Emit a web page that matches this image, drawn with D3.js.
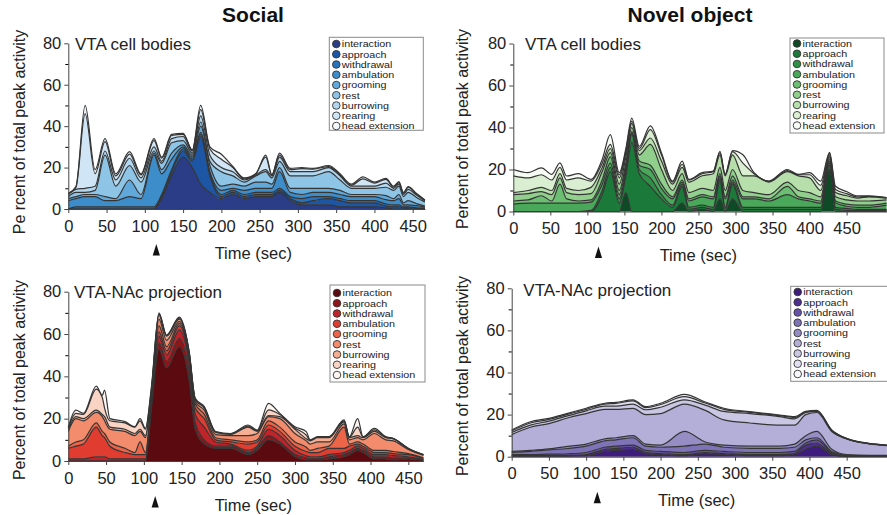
<!DOCTYPE html>
<html>
<head>
<meta charset="utf-8">
<script src="https://cdn.jsdelivr.net/npm/d3@7"></script>
<style>
  body { margin: 0; background: #fff; }
  svg { font-family: "Liberation Sans", Arial, sans-serif; }
</style>
</head>
<body>
<div class="chart"></div>
<script>
// behaviours, bottom of the stack first (= top of the legend)
var behaviors = ["interaction", "approach", "withdrawal", "ambulation", "grooming", "rest", "burrowing", "rearing", "head extension"];

var blueShades   = ["#2c3d88", "#1d56a5", "#2a72ba", "#3d8dcb", "#62a9db", "#8ec5e7", "#b3d7ef", "#d0e5f5", "#f4f9fd"];
var greenShades  = ["#0e4a25", "#1b7a3a", "#2e9146", "#4aa85a", "#6cbe72", "#90cf8c", "#b6dfab", "#daefd2", "#f6fbf3"];
var redShades    = ["#5b0b10", "#901519", "#c0232a", "#e03c30", "#ec6549", "#f28c6c", "#f6ae94", "#f9d3c4", "#fef4f0"];
var purpleShades = ["#3e1c7d", "#4e2e91", "#6652a6", "#7d73b6", "#958dc4", "#b3afd8", "#cac7e5", "#e3e1f1", "#f8f7fc"];

var xTicks = [0, 50, 100, 150, 200, 250, 300, 350, 400, 450];
var yTicks = [0, 20, 40, 60, 80];
var yMinorTicks = [10, 30, 50, 70];
var arrowTime = 115;

// Social / VTA cell bodies
var socialCellTime = [0, 10, 22, 35, 48, 62, 80, 95, 112, 122, 135, 150, 162, 173, 185, 200, 215, 230, 245, 258, 266, 276, 290, 305, 320, 340, 355, 370, 385, 400, 415, 425, 432, 438, 444, 455, 466];
var socialCellValues = [
  [0, 0, 0, 0, 0, 0, 0, 0, 0, 5, 16, 25, 20, 12, 8, 5, 7, 5, 6, 6, 6, 8, 4, 2, 2, 2, 1, 1, 1, 1, 0.5, 0, 0, 0, 0, 0, 0],
  [0, 0, 0, 0, 0, 0, 0, 0, 0, 1, 2, 3, 3, 23, 8, 1, 1, 1, 1, 1, 1, 1, 1, 1, 2, 3, 3, 2, 2, 2, 1, 1, 1, 0.5, 0.5, 0.3, 0.2],
  [0, 1, 1, 1, 1, 1, 1, 1, 1, 1, 1, 1, 1, 1, 1, 1, 1, 1, 1, 1, 1, 1, 1, 2, 2, 1, 1, 1, 1, 1, 1, 1, 1, 0.5, 0.5, 0.3, 0.2],
  [4, 4, 5, 5, 3, 3, 5, 4, 25, 10, 5, 1, 1, 1, 1, 2, 1, 2, 2, 2, 2, 8, 2, 2, 2, 2, 2, 2, 2, 2, 2, 2, 3, 1, 1, 1, 0.5],
  [1, 1, 1, 1, 2, 1, 8, 2, 1, 2, 3, 1, 1, 3, 3, 2, 2, 2, 3, 3, 2, 2, 2, 3, 2, 2, 2, 1, 1, 1, 2, 1, 2, 1, 2, 1, 0.5],
  [1, 2, 1, 2, 20, 6, 7, 6, 1, 3, 5, 2, 1, 2, 2, 7, 4, 2, 3, 5, 3, 3, 6, 6, 6, 8, 5, 3, 3, 3, 4, 4, 4, 3, 4, 3, 2],
  [1, 1.5, 2, 2, 2, 3, 3.5, 2, 2, 1, 2, 2, 1, 3, 3, 2, 2, 1, 0.5, 1, 1, 2, 2, 2, 2, 2, 2, 1, 1, 1, 2, 1, 1, 1, 1.5, 1.1, 0.5],
  [0.5, 1, 36, 6, 4.5, 2, 2, 1.5, 3, 1.5, 1.5, 1, 0.5, 3, 3, 4, 2, 0.5, 0.5, 6, 0.5, 1, 1, 1.5, 1.3, 0.5, 0.5, 0.5, 3.5, 1.5, 1.8, 0.5, 0.7, 0.5, 1, 0.5, 0.3],
  [0, 0.3, 4, 2, 1.5, 1, 1.2, 0.5, 1, 0.5, 0.5, 0.5, 0, 2, 1, 2.4, 0.5, 0.5, 0, 1, 0, 1, 0.6, 0.5, 0.3, 0.5, 0.5, 0.5, 1, 0.5, 0.5, 0.5, 0.5, 0.5, 0.3, 0.3, 0.1]
];

// Novel object / VTA cell bodies
var objectCellTime = [0, 20, 38, 52, 63, 72, 88, 105, 120, 131, 143, 152, 160, 170, 185, 200, 215, 228, 237, 255, 270, 279, 286, 296, 310, 325, 345, 370, 385, 400, 415, 427, 435, 450, 465, 480, 504];
var objectCellValues = [
  [0, 0, 0, 0, 0, 0, 0, 0, 0, 0, 0, 9, 0, 0, 0, 0, 0, 4, 0, 1, 0, 6, 0, 6, 0, 0, 0, 0, 0, 0, 0, 20, 0, 0, 0, 0, 0],
  [0, 0, 0, 0, 0, 0, 0, 0, 8, 19, 4, 8, 33, 18, 12, 6, 2, 8, 1, 1, 1, 9, 1, 7, 1, 1, 1, 1, 1, 1, 1, 2, 1, 0.5, 0.5, 0.5, 0.5],
  [0, 0, 0, 0, 0, 0, 0, 0.5, 2, 2, 2, 2, 4, 2, 4, 2, 1, 1, 1, 1, 1, 1, 1, 1, 1, 1, 1, 1, 1, 1, 1, 1, 1, 1, 0.5, 0.5, 0.5],
  [3.5, 4, 4, 4, 4, 4, 4, 4, 3, 2, 2, 2, 0.5, 2, 4, 3, 3, 1, 3, 4, 4, 1, 4, 1, 4, 4, 3, 6, 4, 3, 2, 1, 2, 1, 1, 1, 2],
  [1.5, 1.5, 3.5, 1, 9, 2, 1, 1, 2, 3, 2, 2, 0.5, 2, 2, 2, 1, 1, 1, 1, 1, 1, 1, 2, 1, 1, 1, 4, 1, 1, 1, 1, 1, 1, 1, 1, 1],
  [3, 3, 2, 3, 3, 3, 3, 3, 4, 2, 3, 3, 2, 3, 10, 7, 3, 3, 3, 3, 3, 3, 3, 3, 3, 2, 2, 2, 3, 3, 2, 1, 2, 2, 2, 2, 1.5],
  [1, 1.5, 2, 2, 2, 2, 2, 3, 2, 2, 3, 2, 2, 2, 3, 4, 3, 3, 5, 6, 8, 6, 7, 7, 7, 8, 6, 5, 7, 7, 3, 1, 2, 2, 1.4, 2, 0.8],
  [8, 6, 6, 5, 3, 4, 6, 3, 2, 2, 1.5, 1, 1, 1, 4, 3, 1, 1.5, 1, 1, 1, 1, 0.5, 1.5, 6, 1, 0.3, 0.5, 0.5, 1.5, 2.5, 0.7, 1.5, 1, 0.5, 0.2, 0.2],
  [3, 2.5, 3.3, 2.7, 2.2, 1.9, 2, 0.8, 1.8, 4.6, 1, 1, 1.5, 1, 1.8, 1, 0.5, 1.5, 0.3, 0.5, 0.2, 0.7, 0.2, 0.5, 4, 0.5, 0.2, 0.5, 0.2, 1, 2, 0.5, 1.5, 1, 0.5, 0.2, 0.1]
];

// Social / VTA-NAc projection
var socialNacTime = [0, 10, 20, 37, 45, 48, 55, 75, 88, 95, 102, 110, 120, 130, 147, 160, 168, 180, 195, 215, 238, 250, 265, 280, 300, 315, 320, 330, 345, 365, 372, 383, 390, 405, 420, 430, 450, 470];
var socialNacValues = [
  [0, 0, 0, 0, 0, 0, 0, 0, 0, 0, 0, 25, 53, 44, 54, 38, 15, 8, 6, 6, 3, 5, 10, 8, 2, 0.5, 0.5, 0.5, 1, 2, 3, 5, 4, 1, 1, 0.5, 1, 0.3],
  [0, 0, 0, 0, 0, 0, 0, 0, 0, 0, 0, 1, 3, 3, 4, 4, 3, 2, 1, 1, 1, 1, 2, 1, 1, 1, 0.5, 0.5, 1, 1, 1, 1, 1, 1, 1, 1, 0.5, 0.2],
  [1, 1, 1, 2, 2, 2, 1, 1, 1, 1, 1, 1, 3, 3, 4, 4, 4, 6, 2, 1, 1, 1, 3, 3, 2, 1, 1, 1, 1, 1, 1, 1, 1, 1, 1, 1, 0.5, 0.2],
  [5, 6, 7, 14, 10, 9, 6, 3, 2, 2, 2, 1, 2, 2, 2, 2, 3, 4, 1, 1, 3, 2, 2, 2, 2, 2, 2, 2, 3, 2, 2, 1, 1, 1, 1, 1, 1, 0.5],
  [1, 2, 2, 2, 2, 2, 2, 2, 1, 6, 1, 1, 3, 2, 1, 1, 2, 2, 1, 1, 1, 1, 2, 2, 2, 2, 1, 2, 1, 10, 1, 1, 1, 1, 1, 1, 0.5, 0.3],
  [7, 11, 9, 5, 7, 6, 6, 8, 8, 5, 7, 3, 3, 3, 1, 1, 1, 2, 1.5, 2, 3, 3, 2, 4, 4, 3, 3, 3, 2, 1.5, 2, 2, 2, 8, 5, 5, 2, 1.2],
  [1, 1, 1, 1, 1, 2, 1, 1, 1, 1, 1, 1, 2, 2, 1, 1, 1, 1, 1, 0.6, 4, 1, 0.5, 1, 2, 1, 1.5, 2, 2, 1, 1, 1, 1, 1, 1, 1, 0.3, 0.2],
  [0.5, 1.5, 2, 10, 8, 4, 3, 3, 3, 4, 3, 1, 0.5, 0.3, 0.5, 0.3, 0.3, 0.4, 0.2, 0.2, 0.5, 0.3, 2.7, 1, 0.6, 1.7, 0.3, 0.3, 0.3, 0.5, 0.3, 4, 0.3, 0.7, 0.3, 0.1, 0.1, 0.05],
  [0.5, 1.5, 0.5, 1.4, 1, 8.5, 1, 0.6, 0.2, 1, 0.4, 1, 0.5, 0.2, 0.5, 0.3, 0.3, 0.3, 0.2, 0.2, 0.5, 0.3, 3, 0.5, 0.6, 1.7, 0.2, 0.2, 0.2, 0.4, 0.2, 4, 0.2, 0.7, 0.2, 0.1, 0.1, 0.05]
];

// Novel object / VTA-NAc projection
var objectNacTime = [0, 25, 50, 75, 100, 125, 140, 163, 180, 200, 232, 260, 285, 320, 360, 380, 395, 410, 430, 450, 480, 504];
var objectNacValues = [
  [0.3, 0.3, 0.3, 0.3, 0.5, 2.5, 3, 3.5, 1.5, 1, 0.5, 1.5, 1, 0.5, 0.5, 1, 3.5, 5, 1, 0.1, 0.1, 0.1],
  [0.2, 0.2, 0.3, 0.3, 0.5, 1, 1, 1, 0.5, 0.5, 0.5, 0.5, 0.5, 0.5, 0.5, 0.5, 2, 1.5, 0.5, 0.1, 0.1, 0.1],
  [0.5, 0.5, 0.6, 0.8, 1, 1, 1, 1, 1, 1, 1, 1, 1, 1, 1, 1, 1, 1.5, 0.5, 0.2, 0.1, 0.1],
  [1, 1.5, 2, 2.5, 3, 3, 3, 3.5, 2, 2, 3, 3, 2, 2, 2, 2, 1.5, 1, 0.5, 0.3, 0.2, 0.2],
  [0.5, 0.5, 0.5, 1, 1, 1, 1, 1, 1, 1, 7, 1, 1, 1, 1, 1.5, 2, 3, 1, 0.3, 0.2, 0.2],
  [8, 11, 12, 13.5, 14.5, 14, 13.5, 13, 14, 15, 13, 15, 12, 11, 10, 9, 10, 9, 8.5, 7.4, 5.4, 4.6],
  [1, 1, 1.2, 1, 1.3, 1.5, 1.5, 2, 2.3, 3, 2, 2.5, 4, 4.5, 4, 3, 1, 0.5, 0.3, 0.1, 0.1, 0.1],
  [0.7, 1, 0.8, 0.7, 0.7, 1, 1.3, 1.5, 1, 1.3, 1.5, 1, 1, 0.6, 0.5, 0.6, 0.3, 0.3, 0.2, 0.1, 0.05, 0.05],
  [0.5, 0.6, 0.5, 0.5, 0.5, 0.4, 0.5, 0.5, 0.5, 0.6, 1.1, 0.5, 0.5, 0.3, 0.3, 0.4, 0.2, 0.2, 0.2, 0.1, 0.05, 0.05]
];

var width = 887, height = 515;

var svg = d3.select(".chart").append("svg")
    .attr("width", width)
    .attr("height", height);

// column titles
svg.append("text").attr("x", 253).attr("y", 22).attr("text-anchor", "middle")
    .style("font-size", "21px").style("font-weight", "bold").style("fill", "#111").text("Social");
svg.append("text").attr("x", 690).attr("y", 22).attr("text-anchor", "middle")
    .style("font-size", "21px").style("font-weight", "bold").style("fill", "#111").text("Novel object");

// layout of the four panels
var panels = [
  { time: socialCellTime, values: socialCellValues, colors: blueShades, name: "VTA cell bodies",
    yLabel: "Pe rcent of total peak activity",
    x0: 68.3, pps: 0.7653, yBase: 209, yTop: 43.3,
    nameX: 75, nameY: 50, yLabelX: 19.5, yLabelY: 132,
    legX: 329.3, legY: 37.3, legW: 94, legH: 93, legRow: 44 },
  { time: objectCellTime, values: objectCellValues, colors: greenShades, name: "VTA cell bodies",
    yLabel: "Percent of total peak activity",
    x0: 513.3, pps: 0.7407, yBase: 211.5, yTop: 43.5,
    nameX: 525, nameY: 50, yLabelX: 462, yLabelY: 129,
    legX: 790, legY: 38, legW: 94, legH: 95, legRow: 43.5 },
  { time: socialNacTime, values: socialNacValues, colors: redShades, name: "VTA-NAc projection",
    yLabel: "Percent of total peak activity",
    x0: 68.3, pps: 0.7556, yBase: 461, yTop: 291.7,
    nameX: 74, nameY: 298, yLabelX: 19.5, yLabelY: 380,
    legX: 330, legY: 285, legW: 95, legH: 97, legRow: 293 },
  { time: objectNacTime, values: objectNacValues, colors: purpleShades, name: "VTA-NAc projection",
    yLabel: "Percent of total peak activity",
    x0: 511.7, pps: 0.7444, yBase: 456.7, yTop: 288.3,
    nameX: 523.3, nameY: 296, yLabelX: 462.5, yLabelY: 376,
    legX: 790.7, legY: 286.3, legW: 100, legH: 95, legRow: 292 }
];

panels.forEach(function(p) {
  var xEnd = d3.max(p.time);
  var xScale = d3.scaleLinear().domain([0, xEnd]).range([p.x0, p.x0 + p.pps * xEnd]);
  var yScale = d3.scaleLinear().domain([0, 80]).range([p.yBase, p.yTop]);

  // rows for d3.stack
  var rows = p.time.map(function(t, i) {
    var row = { time: t };
    behaviors.forEach(function(b, k) { row[b] = p.values[k][i]; });
    return row;
  });
  var layers = d3.stack().keys(behaviors)(rows);

  var area = d3.area()
      .x(function(d) { return xScale(d.data.time); })
      .y0(function(d) { return yScale(d[0]); })
      .y1(function(d) { return yScale(d[1]); })
      .curve(d3.curveMonotoneX);

  var topLine = d3.line()
      .x(function(d) { return xScale(d.data.time); })
      .y(function(d) { return yScale(d[1]); })
      .curve(d3.curveMonotoneX);

  var g = svg.append("g");

  g.selectAll(".layer")
      .data(layers)
    .enter().append("path")
      .attr("class", "layer")
      .attr("d", area)
      .style("fill", function(d, i) { return p.colors[i]; });

  g.selectAll(".edge")
      .data(layers)
    .enter().append("path")
      .attr("class", "edge")
      .attr("d", topLine)
      .style("fill", "none")
      .style("stroke", "#353535")
      .style("stroke-width", 1.2)
      .style("stroke-linejoin", "round");

  // y axis, major + minor ticks
  var yAxis = g.append("g")
      .attr("transform", "translate(" + p.x0 + ",0)")
      .call(d3.axisLeft(yScale).tickValues(yTicks).tickSize(4).tickSizeOuter(0).tickPadding(3));
  g.append("g")
      .attr("transform", "translate(" + p.x0 + ",0)")
      .call(d3.axisLeft(yScale).tickValues(yMinorTicks).tickSize(3).tickFormat(""))
      .select(".domain").remove();

  // x axis
  var xAxis = g.append("g")
      .attr("transform", "translate(0," + p.yBase + ")")
      .call(d3.axisBottom(xScale).tickValues(xTicks).tickSize(4).tickSizeOuter(0).tickPadding(7));

  [yAxis, xAxis].forEach(function(a) {
    a.selectAll("text").style("font-size", "16.5px").style("font-family", "Liberation Sans, Arial, sans-serif").style("fill", "#222");
    a.selectAll("line, path").style("stroke", "#444");
  });

  // stimulus arrow
  var ax = xScale(arrowTime);
  g.append("path")
      .attr("d", "M" + ax + "," + (p.yBase + 35) + "L" + (ax + 3.6) + "," + (p.yBase + 46.5) + "L" + (ax - 3.6) + "," + (p.yBase + 46.5) + "Z")
      .style("fill", "#111");

  g.append("text")
      .attr("x", p.x0 + 185)
      .attr("y", p.yBase + 44)
      .attr("dy", "0.35em")
      .attr("text-anchor", "middle")
      .style("font-size", "16.5px")
      .style("fill", "#222")
      .text("Time (sec)");

  g.append("text")
      .attr("transform", "translate(" + p.yLabelX + "," + p.yLabelY + ") rotate(-90)")
      .attr("dy", "0.35em")
      .attr("text-anchor", "middle")
      .style("font-size", "16px")
      .style("fill", "#222")
      .text(p.yLabel);

  g.append("text")
      .attr("x", p.nameX)
      .attr("y", p.nameY)
      .style("font-size", "17px")
      .style("fill", "#222")
      .text(p.name);

  // legend
  var leg = g.append("g");
  leg.append("rect")
      .attr("x", p.legX).attr("y", p.legY)
      .attr("width", p.legW).attr("height", p.legH)
      .style("fill", "#fff")
      .style("stroke", "#8a8a8a")
      .style("stroke-width", 1);

  var item = leg.selectAll(".item")
      .data(behaviors)
    .enter().append("g")
      .attr("class", "item")
      .attr("transform", function(d, i) { return "translate(" + (p.legX + 7) + "," + (p.legRow + i * 10.25) + ")"; });

  item.append("circle")
      .attr("r", 3.8)
      .style("fill", function(d, i) { return p.colors[i]; })
      .style("stroke", "#333")
      .style("stroke-width", 0.9);

  // narrow row pitch: small font stretched sideways to the original width
  item.append("text")
      .attr("transform", "translate(5.5,0) scale(1.18,1)")
      .attr("dy", "0.36em")
      .style("font-size", "9.1px")
      .style("fill", "#222")
      .text(function(d) { return d; });
});
</script>
</body>
</html>
